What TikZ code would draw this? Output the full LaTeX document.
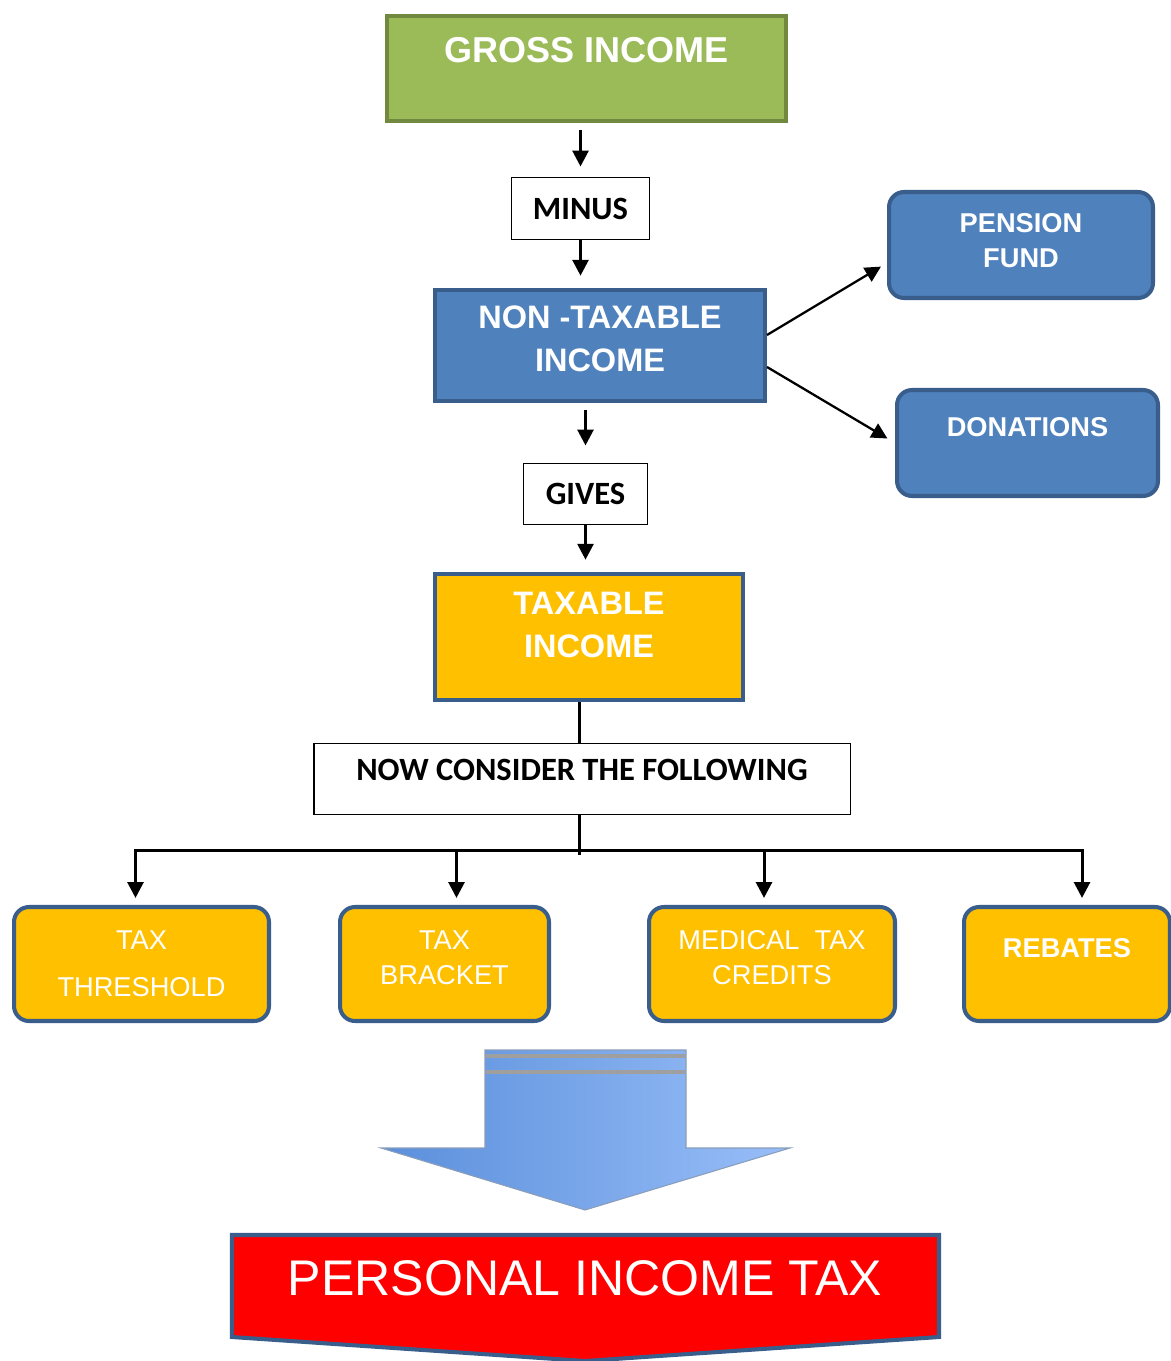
\documentclass[tikz,border=0pt]{standalone}
\usepackage{fontspec}
\setmainfont{Liberation Sans}
\newfontfamily\calib{Carlito}
\usetikzlibrary{arrows.meta}
\definecolor{grn}{HTML}{9BBB59}
\definecolor{grnline}{HTML}{71893F}
\definecolor{blu}{HTML}{4F81BD}
\definecolor{bluline}{HTML}{3A5E8C}
\definecolor{org}{HTML}{FFC000}
\definecolor{arrowl}{HTML}{5B8FDB}
\definecolor{arrowr}{HTML}{98BEF8}

\begin{document}
\begin{tikzpicture}[x=0.02cm, y=-0.02cm,
  fillbox/.style={draw, align=center, text=white, line width=2pt},
  greenbox/.style={fillbox, fill=grn, draw=grnline},
  bluebox/.style={fillbox, fill=blu, draw=bluline},
  orangebox/.style={fillbox, fill=org, draw=bluline},
  smallbox/.style={rounded corners=0.3cm, line width=2.3pt, minimum height=2.28cm,
    font=\fontsize{15.5}{19.8}\selectfont},
  wordbox/.style={draw, fill=white, line width=0.8pt, font=\calib\bfseries\fontsize{18.5}{22}\selectfont},
  flow/.style={line width=1.7pt, -{Triangle[length=9pt,width=9pt]}}]
  \path[use as bounding box, fill=white] (0,0) rectangle (1170,1361);

  \node[greenbox, minimum width=7.98cm, minimum height=2.1cm, text depth=0.74cm,
        font=\bfseries\fontsize{20.5}{25}\selectfont] (gross) at (586.5,68.5) {GROSS INCOME};
  \node[wordbox, minimum width=2.75cm, minimum height=1.23cm] (minus) at (580.5,208.5) {MINUS};
  \node[bluebox, minimum width=6.61cm, minimum height=2.23cm, text depth=0.28cm,
        font=\bfseries\fontsize{18.5}{24.4}\selectfont] (nontax) at (600,345.5) {NON -TAXABLE\\INCOME};
  \node[wordbox, minimum width=2.47cm, minimum height=1.21cm] (gives) at (585.5,494) {GIVES};
  \node[orangebox, line width=2.3pt, minimum width=6.16cm, minimum height=2.52cm, text depth=0.5cm,
        font=\bfseries\fontsize{18.5}{24.4}\selectfont] (taxable) at (589,637) {TAXABLE\\INCOME};
  \node[wordbox, minimum width=10.73cm, minimum height=1.41cm, text depth=0.36cm] (now) at (582,779) {NOW CONSIDER THE FOLLOWING};

  \node[bluebox, smallbox, minimum width=5.28cm, minimum height=2.12cm, text depth=0.18cm,
        font=\bfseries\fontsize{15.5}{19.8}\selectfont] (pension) at (1021,245) {PENSION\\FUND};
  \node[bluebox, smallbox, minimum width=5.22cm, minimum height=2.12cm, text depth=0.64cm,
        font=\bfseries\fontsize{15.5}{19.8}\selectfont] (donations) at (1027.5,443) {DONATIONS};

  \node[orangebox, smallbox, minimum width=5.1cm] (thresh) at (141.5,964) {TAX\\[6.8pt]THRESHOLD};
  \node[orangebox, smallbox, minimum width=4.18cm, text depth=0.26cm] (bracket) at (444.5,964) {TAX\\BRACKET};
  \node[orangebox, smallbox, minimum width=4.92cm, text depth=0.26cm] (medical) at (772,964) {MEDICAL~~TAX\\CREDITS};
  \node[orangebox, smallbox, minimum width=4.12cm, text depth=0.64cm, font=\bfseries\fontsize{15.5}{19.8}\selectfont] (rebates) at (1067,964) {REBATES};

  \draw[flow, shorten <=4pt, shorten >=6pt] (minus |- gross.south) -- (minus);
  \draw[flow, shorten >=7pt] (minus) -- (minus |- nontax.north);
  \draw[flow, shorten <=4pt, shorten >=10pt] (gives |- nontax.south) -- (gives);
  \draw[flow, shorten >=7pt] (gives) -- (gives |- taxable.north);
  \draw[flow, line width=1.3pt, shorten >=4pt] ([yshift=0.21cm]nontax.east) -- ([yshift=-0.36cm]pension.west);
  \draw[flow, line width=1.3pt, shorten >=5pt] ([yshift=-0.43cm]nontax.east) -- (donations.west);

  \coordinate (bus) at (579,850);
  \draw[line width=1.7pt] (bus |- taxable.south) -- (bus |- now.north);
  \draw[line width=1.7pt] (bus |- now.south) -- ([yshift=-3pt]bus);
  \foreach \n/\s in {thresh/-6, bracket/12, medical/-8, rebates/15}
    \draw[flow, shorten >=4pt] (bus) -| ([xshift=\s*0.02cm]\n.north);

  \draw[bluline!60, line width=0.6pt, left color=arrowl, right color=arrowr]
    (485,1050) -- (686,1050) -- (686,1148) -- (790,1148) -- (585,1210) -- (381,1148) -- (485,1148) -- cycle;
  \foreach \y in {1056,1072}
    \draw[gray!75, line width=1.8pt] (486,\y) -- (685,\y);

  \draw[bluline, line width=2.3pt, fill=red] (232,1235) -- (939,1235) -- (939,1337) -- (585,1361) -- (232,1337) -- cycle;
  \node[text=white, font=\fontsize{28.5}{34}\selectfont] (pit) at (585,1278) {PERSONAL INCOME TAX};
\end{tikzpicture}
\end{document}
